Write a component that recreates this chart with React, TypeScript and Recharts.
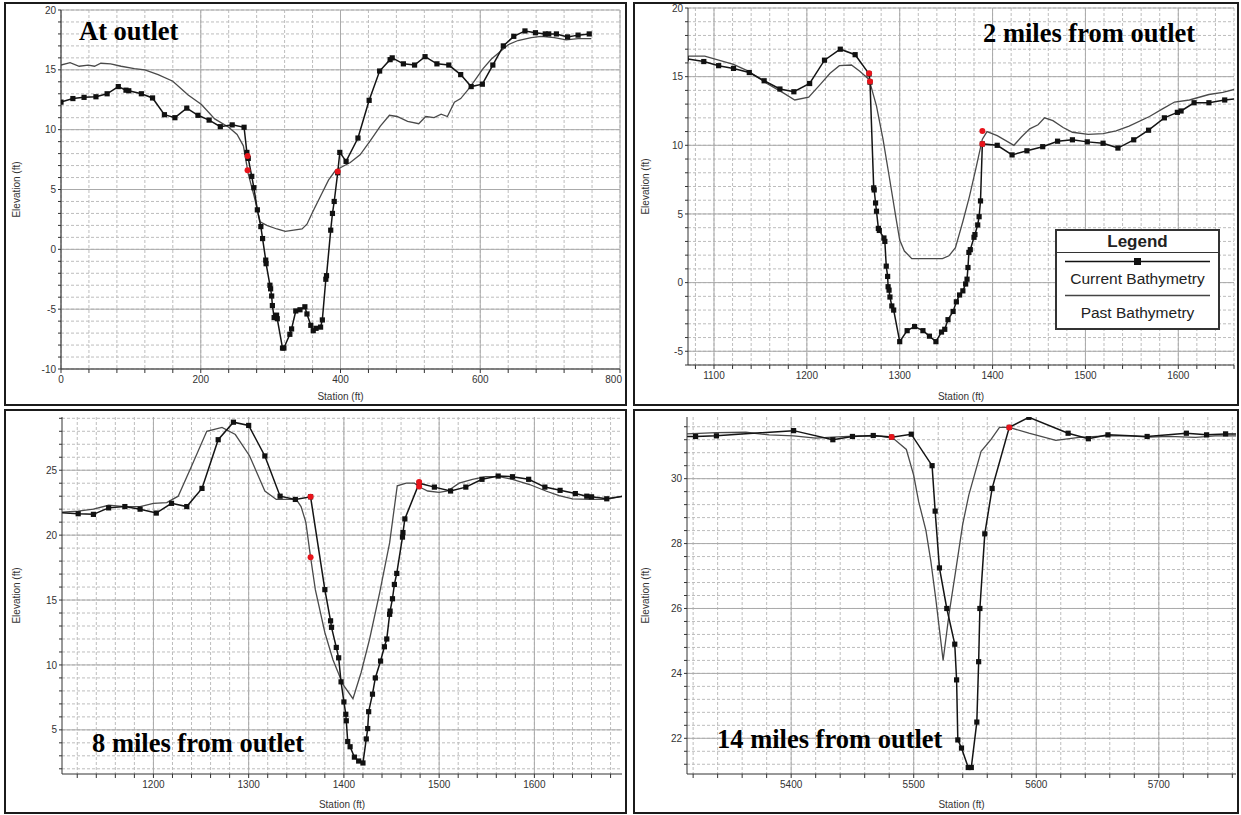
import React from "react";
import {
  ComposedChart,
  Line,
  XAxis,
  YAxis,
  CartesianGrid,
  Legend,
} from "recharts";

type Pt = [number, number]; // [station ft, elevation ft]

// ---- At outlet ----
const outletCurrent: Pt[] = [
  [0, 12.3], [17, 12.6], [33, 12.7], [50, 12.75], [66, 13.0], [82, 13.6], [93, 13.3], [97, 13.25],
  [115, 13.0], [131, 12.65], [148, 11.25], [163, 11.0], [180, 11.8], [196, 11.2], [212, 10.8],
  [228, 10.25], [245, 10.4], [262, 10.2], [266, 8.1], [268, 7.6], [273, 6.1], [276, 5.15], [281, 3.3],
  [286, 1.9], [288.5, 0.9], [293, -0.9], [293.5, -1.2], [299, -3.0], [300, -3.3], [301.5, -3.9],
  [302.5, -4.7], [305, -5.7], [308.5, -5.5], [309.5, -5.8], [317, -8.25], [319, -8.25], [327.5, -7.1],
  [330, -6.65], [336, -5.15], [342, -5.05], [349, -4.8], [352, -5.4], [357.5, -6.35], [361, -6.8],
  [365, -6.6], [371.5, -6.5], [374, -5.9], [379, -2.5], [380, -2.2], [386, 1.6], [388.5, 3.0],
  [391, 4.0], [396, 6.4], [399, 8.1], [408, 7.35], [425, 9.3], [441, 12.45], [456, 14.9], [471, 15.85],
  [474, 16.0], [490, 15.5], [506, 15.4], [521, 16.1], [538, 15.5], [555, 15.4], [572, 14.6],
  [587, 13.6], [603, 13.8], [618, 15.4], [633, 17.0], [648, 17.8], [664, 18.25], [679, 18.1],
  [693, 18.0], [698, 18.0], [709, 18.0], [725, 17.75], [740, 17.9], [756, 18.0],
];
const outletPast: Pt[] = [
  [0, 15.4], [13, 15.6], [26, 15.3], [39, 15.4], [48, 15.3], [57, 15.55], [71, 15.5], [86, 15.3],
  [105, 15.1], [120, 15.0], [139, 14.6], [160, 14.05], [182, 12.9], [201, 12.1], [220, 10.9],
  [240, 10.2], [252, 9.6], [261, 8.65], [268, 6.3], [276.5, 4.4], [285, 2.3], [294.5, 2.0], [309, 1.7],
  [321, 1.5], [333, 1.6], [345, 1.7], [352, 2.1], [360, 3.1], [371, 4.4], [383, 5.8], [393, 6.6],
  [399, 6.8], [414, 7.25], [428, 7.9], [443, 9.1], [457, 10.3], [470, 11.2], [481, 11.1], [496, 10.7],
  [512, 10.5], [522, 11.1], [534, 11.0], [544, 11.3], [553, 11.1], [563, 12.3], [572, 12.6],
  [582, 13.3], [592, 14.1], [604, 15.1], [616, 15.9], [630, 16.6], [640, 17.1], [654, 17.45],
  [673, 17.7], [687, 17.8], [706, 17.7], [723, 17.5], [740, 17.6], [759, 17.6],
];
const outletBank: Pt[] = [[267, 7.8], [267, 6.6], [396, 6.5]];

// ---- 2 miles from outlet ----
const mile2Current: Pt[] = [
  [1070, 16.3], [1089, 16.1], [1105, 15.8], [1121, 15.6], [1138, 15.3], [1154, 14.7], [1171, 14.1],
  [1186, 13.9], [1203, 14.5], [1219, 16.2], [1236, 17.0], [1252, 16.6], [1267, 15.2], [1268, 14.6],
  [1272, 6.9], [1272.5, 6.75], [1274, 5.8], [1275, 5.2], [1277, 3.95], [1278, 3.8], [1283, 3.25],
  [1284, 3.0], [1285.5, 1.2], [1287, 0.45], [1287.5, -0.3], [1288.5, -0.55], [1289.5, -1.05],
  [1291.5, -1.7], [1293.5, -2.0], [1300, -4.3], [1308, -3.5], [1316, -3.2], [1325, -3.5],
  [1332, -3.9], [1339, -4.3], [1345, -3.6], [1348.5, -3.4], [1352, -2.7], [1357.5, -2.1],
  [1361, -1.4], [1364.5, -0.9], [1368, -0.6], [1371, -0.1], [1372.5, 0.25], [1373.5, 1.1],
  [1374.5, 2.2], [1376, 2.4], [1380, 3.3], [1381, 3.5], [1384, 4.2], [1385.5, 4.8], [1387, 5.95],
  [1389, 10.1], [1405, 10.0], [1421, 9.3], [1437, 9.6], [1454, 9.9], [1470, 10.3], [1486, 10.4],
  [1502, 10.25], [1519, 10.15], [1535, 9.8], [1552, 10.4], [1568, 11.1], [1585, 12.0], [1599, 12.4],
  [1603, 12.5], [1617, 13.1], [1633, 13.1], [1650, 13.3], [1665, 13.4],
];
const mile2Past: Pt[] = [
  [1070, 16.5], [1090, 16.5], [1121, 15.9], [1137, 15.4], [1157, 14.5], [1175, 13.8], [1187, 13.3],
  [1202, 13.5], [1214, 14.4], [1225, 15.25], [1235, 15.8], [1248, 15.85], [1257, 15.4], [1267, 14.8],
  [1275, 12.85], [1282, 10.45], [1289, 7.6], [1296, 4.7], [1300, 3.1], [1305, 2.3], [1313, 1.75],
  [1346, 1.75], [1353, 1.95], [1360, 2.55], [1368, 4.45], [1375, 6.25], [1382, 8.3], [1389, 10.45],
  [1394, 11.0], [1405, 10.7], [1423, 10.0], [1431, 10.6], [1440, 11.2], [1449, 11.5], [1456, 12.0],
  [1465, 11.8], [1476, 11.3], [1486, 10.95], [1503, 10.8], [1519, 10.85], [1533, 11.05],
  [1547, 11.4], [1569, 12.1], [1583, 12.65], [1596, 13.15], [1612, 13.3], [1633, 13.7],
  [1648, 13.85], [1665, 14.15],
];
const mile2Bank: Pt[] = [[1267, 15.25], [1268, 14.65], [1389, 10.1], [1389, 11.05]];

// ---- 8 miles from outlet ----
const mile8Current: Pt[] = [
  [1100, 21.75], [1121, 21.65], [1137, 21.6], [1153, 22.1], [1170, 22.2], [1186, 22.0], [1203, 21.7],
  [1219, 22.45], [1235, 22.2], [1251, 23.6], [1268, 27.35], [1284, 28.7], [1300, 28.45], [1317, 26.1],
  [1333, 23.0], [1349, 22.75], [1365, 22.95], [1380, 15.8], [1386, 13.4], [1387, 12.9], [1392, 11.35],
  [1394.5, 10.55], [1397, 8.7], [1400, 7.15], [1402, 6.2], [1402.5, 5.7], [1404, 4.1], [1406.5, 3.7],
  [1411, 2.9], [1415.5, 2.6], [1420, 2.45], [1423.5, 4.3], [1425, 5.1], [1426, 6.4], [1430, 7.75],
  [1433, 9.0], [1438.5, 10.3], [1442.5, 11.4], [1445, 12.0], [1448, 13.9], [1448.5, 14.15],
  [1451, 15.1], [1453, 16.2], [1455.5, 17.05], [1461.5, 19.85], [1462, 20.2], [1464, 21.25],
  [1479, 24.0], [1495, 23.7], [1512, 23.4], [1528, 23.7], [1545, 24.3], [1562, 24.55], [1577, 24.5],
  [1594, 24.3], [1611, 23.7], [1627, 23.45], [1643, 23.2], [1655, 23.0], [1660, 22.95], [1676, 22.8],
  [1695, 23.0],
];
const mile8Past: Pt[] = [
  [1100, 21.75], [1121, 21.85], [1137, 22.0], [1153, 22.3], [1170, 22.2], [1186, 22.2], [1200, 22.45],
  [1214, 22.5], [1226, 23.0], [1240, 25.3], [1256, 28.0], [1272, 28.3], [1286, 27.75], [1301, 26.1],
  [1317, 23.4], [1329, 22.75], [1350, 22.75], [1355, 22.2], [1360, 21.0], [1365, 18.3], [1370, 15.8],
  [1380, 12.5], [1388.5, 10.4], [1399, 8.5], [1409.5, 7.4], [1418, 9.4], [1427, 12.0], [1437.5, 15.55],
  [1448, 19.4], [1456, 23.8], [1465.5, 24.0], [1474, 24.0], [1481, 23.65], [1488, 23.4], [1500, 23.3],
  [1509, 23.4], [1521, 24.0], [1535, 24.3], [1549, 24.5], [1563, 24.5], [1577, 24.3], [1595, 23.9],
  [1612, 23.4], [1626, 23.05], [1640, 22.8], [1658, 22.75], [1675, 22.75], [1695, 23.05],
];
const mile8Bank: Pt[] = [[1365, 22.95], [1365, 18.3], [1479, 24.1], [1479, 23.75]];

// ---- 14 miles from outlet ----
const mile14Current: Pt[] = [
  [5310, 31.3], [5322, 31.3], [5339, 31.32], [5402, 31.48], [5434, 31.2], [5450, 31.3], [5467, 31.33],
  [5482, 31.28], [5498, 31.37], [5515, 30.4], [5517.5, 29.0], [5521, 27.25], [5527, 26.0],
  [5533.5, 24.9], [5535, 23.8], [5536, 21.95], [5539, 21.7], [5544.5, 21.1], [5547, 21.1],
  [5551.5, 22.5], [5553, 24.36], [5554, 26.0], [5558, 28.3], [5564, 29.7], [5578, 31.58],
  [5594, 31.89], [5626, 31.4], [5642.5, 31.23], [5658.5, 31.35], [5690.5, 31.3], [5722.5, 31.4],
  [5739, 31.35], [5754.5, 31.38], [5770, 31.38],
];
const mile14Past: Pt[] = [
  [5310, 31.37], [5339, 31.42], [5363, 31.43], [5382, 31.35], [5402, 31.32], [5420, 31.25],
  [5434, 31.28], [5455, 31.32], [5474, 31.3], [5483, 31.25], [5494, 30.9], [5500, 30.1], [5504, 29.3],
  [5510, 28.4], [5514, 27.45], [5518, 26.3], [5524, 24.4], [5529, 25.87], [5534, 27.1], [5540, 28.6],
  [5545, 29.5], [5555, 30.84], [5563, 31.2], [5570, 31.58], [5578, 31.58], [5594, 31.4], [5616, 31.18],
  [5635, 31.27], [5657, 31.32], [5676, 31.32], [5692, 31.28], [5708, 31.3], [5730, 31.27],
  [5746, 31.32], [5770, 31.32],
];
const mile14Bank: Pt[] = [[5482, 31.28], [5578, 31.58]];

// axis tick values
const outletXMajor = [0, 200, 400, 600, 800];
const outletYMajor = [-10, -5, 0, 5, 10, 15, 20];
const mile2XMajor = [1100, 1200, 1300, 1400, 1500, 1600];
const mile2YMajor = [-5, 0, 5, 10, 15, 20];
const mile8XMajor = [1200, 1300, 1400, 1500, 1600];
const mile8YMajor = [5, 10, 15, 20, 25];
const mile14XMajor = [5400, 5500, 5600, 5700];
const mile14YMajor = [22, 24, 26, 28, 30];

const SANS = '"Liberation Sans", Arial, sans-serif';
const SERIF = '"Liberation Serif", "Times New Roman", serif';

const steps = (from: number, to: number, step: number) => {
  const out: number[] = [];
  for (let i = 0; from + i * step <= to + 1e-6; i++) out.push(Math.round((from + i * step) * 1000) / 1000);
  return out;
};

const rows = (pts: Pt[]) => pts.map(([st, el]) => ({ st, el }));

const isMajor = (list: number[], v: number) => list.some((m) => Math.abs(m - v) < 1e-6);

const SquareDot = (p: any) => {
  if (p.cx == null || p.cy == null) return <g key={`sq-${p.index}`} />;
  return <rect key={`sq-${p.index}`} x={p.cx - 2.6} y={p.cy - 2.6} width={5.2} height={5.2} fill="#111" />;
};

const RedDot = (p: any) => {
  if (p.cx == null || p.cy == null) return <g key={`rd-${p.index}`} />;
  return <circle key={`rd-${p.index}`} cx={p.cx} cy={p.cy} r={3} fill="#e8141b" />;
};

const YTitle = (p: any) => {
  const vb = p.viewBox || {};
  const x = (vb.x ?? 0) + 14;
  const y = (vb.y ?? 0) + (vb.height ?? 0) / 2;
  return (
    <text x={x} y={y} transform={`rotate(-90, ${x}, ${y})`} textAnchor="middle"
      fontSize={10} fill="#333" fontFamily={SANS}>
      Elevation (ft)
    </text>
  );
};

// bottom tick: label only on major values, the one at the right edge is right-aligned
const makeXTick = (major: number[], last: number) => (p: any) => {
  const v = p.payload?.value;
  if (!isMajor(major, v)) return <g />;
  const atEdge = Math.abs(v - last) < 1e-6;
  return (
    <text x={atEdge ? p.x + 2 : p.x} y={p.y} dy="0.71em" textAnchor={atEdge ? "end" : "middle"}
      fontSize={10} fill="#333" fontFamily={SANS}>
      {v}
    </text>
  );
};

function LegendBox({ payload }: any) {
  const items = [...(payload ?? [])]
    .filter((e: any) => e.type !== "none")
    .sort((a: any, b: any) => (a.type === "square" ? 0 : 1) - (b.type === "square" ? 0 : 1));
  return (
    <div style={{ width: 165, height: 101, boxSizing: "border-box", border: "2px solid #333",
      background: "#fff", fontFamily: SANS, color: "#222" }}>
      <div style={{ height: 21, lineHeight: "21px", textAlign: "center", fontWeight: "bold",
        fontSize: 17, borderBottom: "1.5px solid #333" }}>Legend</div>
      {items.map((e: any) => (
        <div key={e.value} style={{ textAlign: "center" }}>
          <svg width={161} height={17} style={{ display: "block" }}>
            <line x1={8} x2={153} y1={8.5} y2={8.5} stroke={e.type === "square" ? "#111" : "#444"} strokeWidth={1.5} />
            {e.type === "square" && <rect x={77} y={5} width={7} height={7} fill="#111" />}
          </svg>
          <div style={{ fontSize: 15.5, lineHeight: "17px", whiteSpace: "nowrap" }}>{e.value}</div>
        </div>
      ))}
    </div>
  );
}

type PanelProps = {
  current: Pt[];
  past: Pt[];
  bank: Pt[];
  xDomain: [number, number];
  xMajor: number[];
  xMinor: number[];
  yDomain: [number, number];
  yMajor: number[];
  yMinor: number[];
  left: number;
  top: number;
  width: number;
  height: number;
  marginTop: number;
  marginRight: number;
  yAxisWidth: number;
  xAxisHeight: number;
  legend?: boolean;
};

function Panel(p: PanelProps) {
  const tick = { fontSize: 10, fill: "#333", fontFamily: SANS };
  return (
    <div style={{ position: "absolute", left: p.left, top: p.top, width: p.width, height: p.height,
      border: "2px solid #1b1b1b", boxSizing: "border-box", overflow: "hidden", background: "#fff" }}>
      <ComposedChart width={p.width - 4} height={p.height - 4}
        margin={{ top: p.marginTop, right: p.marginRight, left: 0, bottom: 0 }}>
        <CartesianGrid verticalValues={p.xMinor} horizontalValues={p.yMinor} stroke="#bdbdbd" strokeDasharray="3 2" />
        <CartesianGrid verticalValues={p.xMajor} horizontalValues={p.yMajor} stroke="#aaaaaa" />
        <XAxis type="number" dataKey="st" domain={p.xDomain} allowDataOverflow ticks={p.xMinor} interval={0}
          tickSize={4} tickMargin={3} height={p.xAxisHeight}
          stroke="#333" tick={makeXTick(p.xMajor, p.xMajor[p.xMajor.length - 1] === p.xDomain[1] ? p.xDomain[1] : NaN)}
          label={{ value: "Station (ft)", position: "insideBottom", offset: 4, fontSize: 10, fill: "#333", fontFamily: SANS }} />
        <YAxis type="number" dataKey="el" domain={p.yDomain} allowDataOverflow ticks={p.yMinor} interval={0}
          tickFormatter={(v: number) => (isMajor(p.yMajor, v) ? String(v) : "")} tickSize={3} tickMargin={2}
          width={p.yAxisWidth} stroke="#333" tick={tick} label={YTitle} />
        <Line data={rows(p.past)} dataKey="el" name="Past Bathymetry" stroke="#4a4a4a" strokeWidth={1.3}
          dot={false} legendType="line" isAnimationActive={false} />
        <Line data={rows(p.current)} dataKey="el" name="Current Bathymetry" stroke="#141414" strokeWidth={1.5}
          dot={SquareDot} legendType="square" isAnimationActive={false} />
        <Line data={rows(p.bank)} dataKey="el" name="Bank stations" stroke="none" dot={RedDot}
          activeDot={false} legendType="none" isAnimationActive={false} />
        {p.legend && (
          <Legend layout="horizontal" verticalAlign="middle" align="center" content={LegendBox}
            wrapperStyle={{ left: 420, top: 225, width: 165, height: 101 }} />
        )}
      </ComposedChart>
    </div>
  );
}

export default function App() {
  const titleStyle = { fontFamily: SERIF, fontWeight: "bold" as const, fontSize: 26.5, fill: "#000" };
  return (
    <div style={{ position: "absolute", left: 0, top: 0, width: 1241, height: 815, background: "#fff" }}>
      <Panel current={outletCurrent} past={outletPast} bank={outletBank}
        xDomain={[0, 800]} xMajor={outletXMajor} xMinor={steps(0, 800, 40)}
        yDomain={[-10, 20]} yMajor={outletYMajor} yMinor={steps(-10, 20, 1)}
        left={4} top={2} width={623} height={404} marginTop={6} marginRight={5} yAxisWidth={55} xAxisHeight={35} />
      <Panel current={mile2Current} past={mile2Past} bank={mile2Bank}
        xDomain={[1072, 1660]} xMajor={mile2XMajor} xMinor={steps(1080, 1660, 20)}
        yDomain={[-6, 20]} yMajor={mile2YMajor} yMinor={steps(-6, 20, 1)}
        left={633} top={2} width={606} height={404} marginTop={4} marginRight={3} yAxisWidth={53} xAxisHeight={39}
        legend />
      <Panel current={mile8Current} past={mile8Past} bank={mile8Bank}
        xDomain={[1104, 1692]} xMajor={mile8XMajor} xMinor={steps(1120, 1680, 20)}
        yDomain={[1.6, 29.1]} yMajor={mile8YMajor} yMinor={steps(2, 29, 1)}
        left={4} top={409} width={623} height={405} marginTop={6} marginRight={3} yAxisWidth={56} xAxisHeight={38} />
      <Panel current={mile14Current} past={mile14Past} bank={mile14Bank}
        xDomain={[5315, 5763]} xMajor={mile14XMajor} xMinor={steps(5320, 5760, 20)}
        yDomain={[20.9, 31.9]} yMajor={mile14YMajor} yMinor={steps(21.2, 31.6, 0.4)}
        left={633} top={409} width={606} height={405} marginTop={6} marginRight={1} yAxisWidth={52} xAxisHeight={38} />
      <svg width={1241} height={815} style={{ position: "absolute", left: 0, top: 0, pointerEvents: "none" }}>
        <text x={79} y={40} {...titleStyle}>At outlet</text>
        <text x={983} y={42} {...titleStyle}>2 miles from outlet</text>
        <text x={92} y={752} {...titleStyle}>8 miles from outlet</text>
        <text x={717} y={748} {...titleStyle}>14 miles from outlet</text>
      </svg>
    </div>
  );
}
